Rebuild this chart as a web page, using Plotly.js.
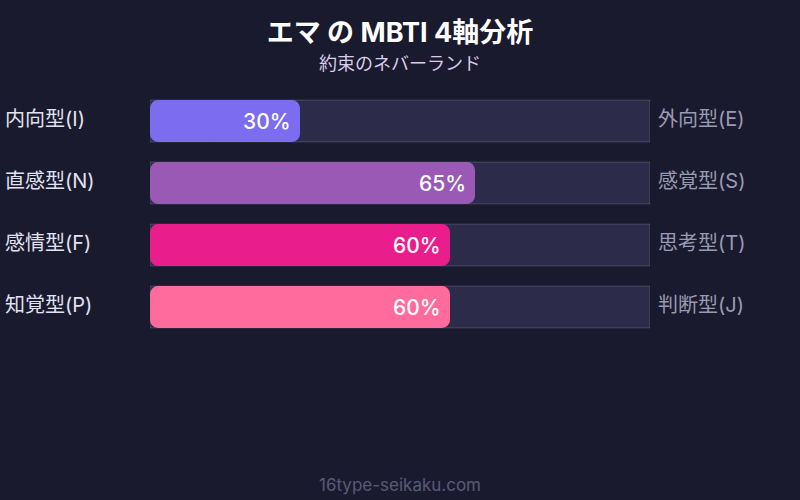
<!DOCTYPE html>
<html>
<head>
<meta charset="utf-8">
<script src="https://cdn.plot.ly/plotly-3.0.1.min.js"></script>
<style>html,body{margin:0;padding:0;background:#1a1a2e;}#chart{width:800px;height:500px;}</style>
</head>
<body>
<div id="chart"></div>
<script>
const leftLabels = ["内向型(I)", "直感型(N)", "感情型(F)", "知覚型(P)"];
const rightLabels = ["外向型(E)", "感覚型(S)", "思考型(T)", "判断型(J)"];
const values = [30, 65, 60, 60];
const colors = ["#7b6cf0", "#9b59b6", "#e91e8c", "#ff6b9d"];
const maxValue = 100;

const cats = leftLabels.map((_, i) => "r" + i);
const FONT = "Inter, 'Noto Sans CJK JP', sans-serif";

const track = {
  type: "bar", orientation: "h", y: cats, x: cats.map(() => maxValue),
  width: 0.675, hoverinfo: "skip",
  marker: { color: "#2d2b4a", line: { color: "rgba(255,255,255,0.16)", width: 1 } }
};
// left half (rounded toward 0) and right half (rounded toward value)
const leftHalf = {
  type: "bar", orientation: "h", y: cats,
  base: values.map(v => v * 0.6), x: values.map(v => -v * 0.6),
  width: 0.675, hoverinfo: "skip",
  marker: { color: colors, cornerradius: 8, line: { width: 0 } }
};
const rightHalf = {
  type: "bar", orientation: "h", y: cats,
  base: values.map(v => v * 0.4), x: values.map(v => v * 0.6),
  width: 0.675, hoverinfo: "skip",
  marker: { color: colors, cornerradius: 8, line: { width: 0 } }
};

const annotations = [];
cats.forEach((c, i) => {
  annotations.push({ x: values[i], y: c, xref: "x", yref: "y", text: values[i] + "%",
    showarrow: false, xanchor: "right", xshift: -7,
    font: { family: FONT, size: 21, color: "#ffffff", weight: 500 } });
  annotations.push({ x: -0.3, y: c, xref: "paper", yref: "y", text: leftLabels[i],
    showarrow: false, xanchor: "left", xshift: 3, yshift: 2,
    font: { family: FONT, size: 20, color: "#e2e2f2" } });
  annotations.push({ x: 1, y: c, xref: "paper", yref: "y", text: rightLabels[i],
    showarrow: false, xanchor: "left", xshift: 6, yshift: 2,
    font: { family: FONT, size: 20, color: "#9a9ab2" } });
});
// plot area spans 90px..338px from top (248px tall)
annotations.push({ x: 0.5, y: (338 - 63) / 248, xref: "paper", yref: "paper", yanchor: "middle",
  text: "約束のネバーランド", showarrow: false,
  font: { family: FONT, size: 18, color: "#dccbea" } });
annotations.push({ x: 0.5, y: (338 - 485) / 248, xref: "paper", yref: "paper", yanchor: "middle",
  text: "16type-seikaku.com", showarrow: false,
  font: { family: FONT, size: 17, color: "#5a5a78" } });

const layout = {
  width: 800, height: 500,
  paper_bgcolor: "#1a1a2e", plot_bgcolor: "#1a1a2e",
  margin: { l: 150, r: 150, t: 90, b: 162 },
  barmode: "overlay", showlegend: false,
  title: { text: "<b>エマ の MBTI 4軸分析</b>", x: 0.5, xanchor: "center", y: 0.934, yanchor: "middle",
    font: { family: FONT, size: 27, color: "#ffffff" } },
  xaxis: { range: [0, maxValue], visible: false, fixedrange: true },
  yaxis: { range: [3.5, -0.5], visible: false, fixedrange: true, type: "category",
    categoryorder: "array", categoryarray: cats },
  annotations: annotations
};

Plotly.newPlot("chart", [track, leftHalf, rightHalf], layout, { staticPlot: true });
</script>
</body>
</html>
